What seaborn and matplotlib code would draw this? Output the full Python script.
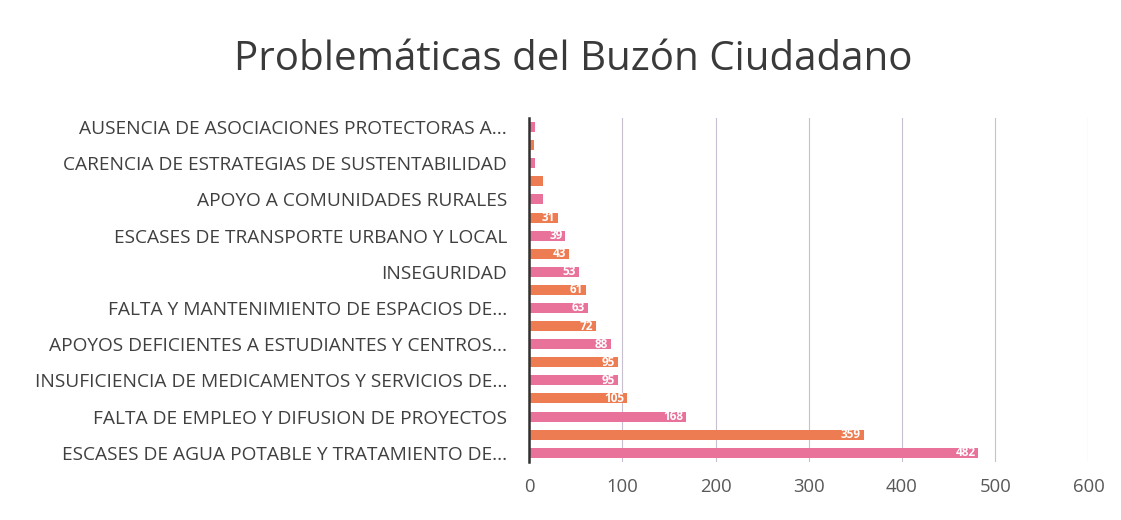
import matplotlib
matplotlib.use("Agg")
import matplotlib.pyplot as plt
import seaborn as sns
import pandas as pd

# categories from top to bottom; only every other name is printed on the chart
labels = [
    "AUSENCIA DE ASOCIACIONES PROTECTORAS A...", "",
    "CARENCIA DE ESTRATEGIAS DE SUSTENTABILIDAD", "",
    "APOYO A COMUNIDADES RURALES", "",
    "ESCASES DE TRANSPORTE URBANO Y LOCAL", "",
    "INSEGURIDAD", "",
    "FALTA Y MANTENIMIENTO DE ESPACIOS DE...", "",
    "APOYOS DEFICIENTES A ESTUDIANTES Y CENTROS...", "",
    "INSUFICIENCIA DE MEDICAMENTOS Y SERVICIOS DE...", "",
    "FALTA DE EMPLEO Y DIFUSION DE PROYECTOS", "",
    "ESCASES DE AGUA POTABLE Y TRATAMIENTO DE...",
]
values = [6, 5, 6, 15, 15, 31, 39, 43, 53, 61, 63, 72, 88, 95, 95, 105, 168, 359, 482]
show_value = [False] * 5 + [True] * 14

pink = "#E8729A"
orange = "#EE7C52"

df = pd.DataFrame({"slot": [str(i) for i in range(len(values))], "valor": values})
colors = [pink if i % 2 == 0 else orange for i in range(len(values))]

fig = plt.figure(figsize=(11.21, 5.2), dpi=100)
ax = fig.add_axes([0.472, 0.112, 0.499, 0.661])
sns.barplot(data=df, x="valor", y="slot", hue="slot", palette=colors,
            legend=False, width=0.55, saturation=1, ax=ax)

font = "Open Sans"
for i, (v, s) in enumerate(zip(values, show_value)):
    if s:
        ax.text(v - 3, i, str(v), ha="right", va="center", color="white",
                fontsize=8.5, fontweight="bold", family=font)

ax.set_xlim(0, 600)
ax.set_xticks(range(0, 601, 100))
ax.set_yticks(range(len(labels)))
ax.set_yticklabels(labels, family=font, fontsize=13.8, color="#404040")
for t in ax.get_xticklabels():
    t.set_family(font)
    t.set_fontsize(13.3)
    t.set_color("#595959")
ax.tick_params(axis="both", length=0)
ax.tick_params(axis="y", pad=16)
ax.tick_params(axis="x", pad=12)
ax.set_xlabel("")
ax.set_ylabel("")
ax.grid(axis="x", color="#C8C0D0", linewidth=0.8)
ax.set_axisbelow(True)
for side in ["top", "right", "bottom"]:
    ax.spines[side].set_visible(False)
ax.spines["left"].set_color("#303030")
ax.spines["left"].set_linewidth(1.8)

fig.text(0.511, 0.885, "Problemáticas del Buzón Ciudadano", ha="center", va="center",
         fontsize=29, color="#3A3A3A", family=font)

fig.savefig("out.png", dpi=100)
